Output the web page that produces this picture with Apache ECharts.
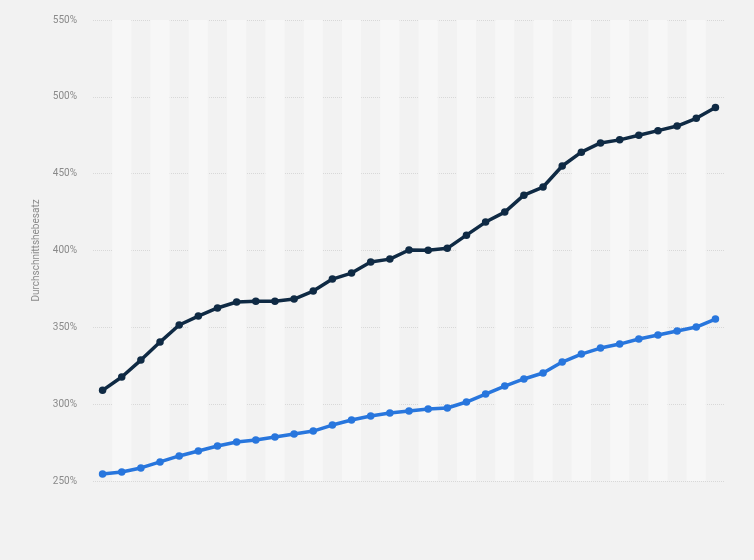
<!DOCTYPE html>
<html style="height: 100%">

<head>
    <meta charset="utf-8">
</head>

<body style="height: 100%; margin: 0; background: #f3f3f3">
    <div id="container" style="height: 100%"></div>

    <script type="text/javascript" src="https://cdn.jsdelivr.net/npm/echarts@6/dist/echarts.min.js"></script>

    <script type="text/javascript">
        // 33 Zeitpunkte, Achse ohne Beschriftung
        var categories = [];
        for (var i = 1; i <= 33; i++) categories.push(String(i));

        var darkValues = [309, 317.7, 328.7, 340.4, 351.5, 357.3, 362.6, 366.5, 367, 367, 368.4,
            373.6, 381.4, 385.3, 392.5, 394.4, 400.3, 400.2, 401.4, 410, 418.5, 425,
            436, 441.3, 455, 464, 470, 472, 475, 478, 481, 486, 493];
        var blueValues = [254.6, 255.9, 258.5, 262.4, 266.3, 269.5, 272.8, 275.4, 276.7, 278.6, 280.6,
            282.5, 286.4, 289.7, 292.3, 294.2, 295.5, 296.8, 297.5, 301.4, 306.6, 311.8,
            316.4, 320.3, 327.4, 332.6, 336.5, 339.1, 342.4, 345, 347.6, 350.2, 355.4];
        var yTicks = { min: 250, max: 550, interval: 50 };

        var dom = document.getElementById("container");
        var myChart = echarts.init(dom);
        var option;

        function lineSeries(name, data, color) {
            return {
                name: name,
                type: 'line',
                data: data,
                symbol: 'circle',
                symbolSize: 7.5,
                showSymbol: true,
                lineStyle: { width: 3.5, color: color },
                itemStyle: { color: color },
                animation: false
            };
        }

        option = {
            backgroundColor: '#f2f2f2',
            grid: { left: 93, right: 29, top: 20, bottom: 79 },
            xAxis: {
                type: 'category',
                data: categories,
                boundaryGap: true,
                axisLine: { show: false },
                axisTick: { show: false },
                axisLabel: { show: false },
                splitLine: { show: false },
                splitArea: {
                    show: true,
                    areaStyle: { color: ['rgba(0,0,0,0)', '#f7f7f7'] }
                }
            },
            yAxis: {
                type: 'value',
                min: yTicks.min,
                max: yTicks.max,
                interval: yTicks.interval,
                name: 'Durchschnittshebesatz',
                nameLocation: 'middle',
                nameGap: 45,
                nameTextStyle: { color: '#8a8a8a', fontSize: 10, fontFamily: 'Roboto' },
                axisLine: { show: false },
                axisTick: { show: false },
                axisLabel: {
                    formatter: '{value}%',
                    color: '#8a8a8a',
                    fontSize: 10,
                    fontFamily: 'Roboto',
                    margin: 16
                },
                splitLine: { lineStyle: { color: '#d8d8d8', type: [1, 1], width: 1 } }
            },
            series: [
                lineSeries('A', darkValues, '#0f2a44'),
                lineSeries('B', blueValues, '#2876dd')
            ]
        };

        if (option && typeof option === 'object') {
            myChart.setOption(option);
        }
    </script>
</body>

</html>
